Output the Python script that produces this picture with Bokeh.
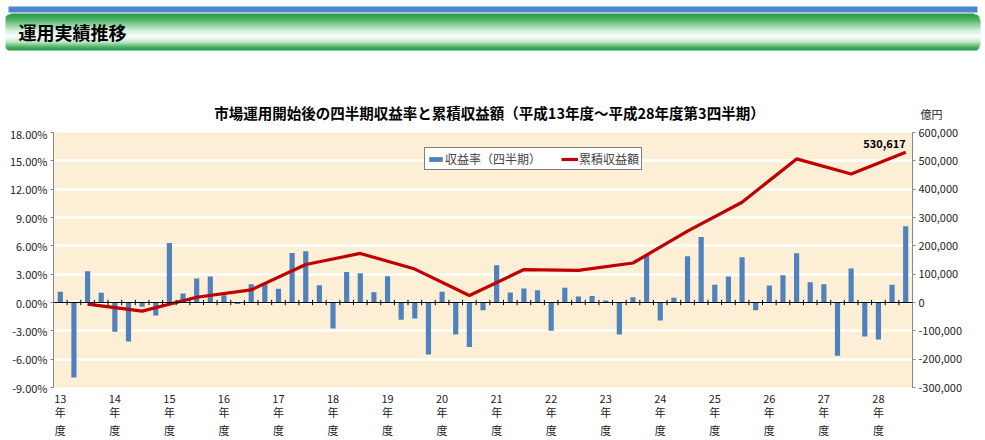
import numpy as np
from bokeh.plotting import figure
from bokeh.models import (Range1d, LinearAxis, FixedTicker, PrintfTickFormatter,
                          NumeralTickFormatter, Span, Legend)
from bokeh.core.properties import value
from bokeh.embed import file_html
from bokeh.resources import INLINE

# ---------------- data ----------------
header_title = "運用実績推移"
chart_title = "市場運用開始後の四半期収益率と累積収益額（平成13年度～平成28年度第3四半期）"
unit_label = "億円"
series_bar_name = "収益率（四半期）"
series_line_name = "累積収益額"

fiscal_years = ["13", "14", "15", "16", "17", "18", "19", "20",
                "21", "22", "23", "24", "25", "26", "27", "28"]
year_suffix_1 = "年"
year_suffix_2 = "度"

# quarterly return (%), FY13 Q1 ... FY28 Q3
quarterly_returns = [
    1.13, -7.93, 3.31, 1.02,     # 13
    -3.10, -4.12, -0.46, -1.38,  # 14
    6.31, 0.95, 2.54, 2.75,      # 15
    0.77, -0.15, 1.94, 2.00,     # 16
    1.45, 5.25, 5.43, 1.83,      # 17
    -2.75, 3.24, 3.10, 1.09,     # 18
    2.78, -1.83, -1.69, -5.50,   # 19
    1.13, -3.38, -4.72, -0.81,   # 20
    3.95, 1.06, 1.48, 1.30,      # 21
    -3.00, 1.55, 0.63, 0.70,     # 22
    0.21, -3.38, 0.56, 5.00,     # 23
    -1.90, 0.49, 4.90, 6.94,     # 24
    1.87, 2.75, 4.79, -0.81,     # 25
    1.80, 2.89, 5.22, 2.15,      # 26
    1.94, -5.64, 3.60, -3.60,    # 27
    -3.91, 1.87, 8.07,           # 28
]

# cumulative return (億円), one point per fiscal year (last = FY28 Q3)
cumulative_amount = [-5874, -30404, 18512, 44639, 134258, 173152, 117974, 24493,
                     116343, 113344, 139436, 251658, 353865, 506787, 453689, 530617]

left_ticks = [-9, -6, -3, 0, 3, 6, 9, 12, 15, 18]
right_ticks = [-300000, -200000, -100000, 0, 100000, 200000, 300000, 400000, 500000, 600000]

# ---------------- derived positions ----------------
n_q = len(quarterly_returns)
q_index = list(range(n_q))
line_index = [4 * k + 2 for k in range(len(cumulative_amount))]
year_ticks = [4 * k for k in range(len(fiscal_years))]
boundaries = [i + 0.5 for i in q_index[:-1]]

FONT = "Noto Sans CJK JP"
W = 985

# ---------------- top block (header + chart title) ----------------
TOP_H = 125
top = figure(width=W, height=TOP_H, x_range=Range1d(0, W), y_range=Range1d(0, TOP_H),
             toolbar_location=None, output_backend="svg", min_border=0, title=None,
             x_axis_type=None, y_axis_type=None)
top.outline_line_color = None
top.grid.visible = False
top.background_fill_color = "white"
top.border_fill_color = "white"


def py(page_y):
    return TOP_H - page_y


top.quad(left=[8], right=[977], bottom=[py(12)], top=[py(6)], color="#4f84cf", line_color=None)

stops = [(0.0, "#2a9a47"), (0.15, "#48b262"), (0.45, "#d2eed9"), (0.62, "#ffffff"),
         (0.78, "#c2e6cb"), (0.92, "#48b262"), (1.0, "#2a9a47")]


def _rgb(h):
    return np.array([int(h[i:i + 2], 16) for i in (1, 3, 5)], dtype=float)


def _interp(t):
    for (t0, c0), (t1, c1) in zip(stops[:-1], stops[1:]):
        if t0 <= t <= t1:
            f = (t - t0) / (t1 - t0) if t1 > t0 else 0
            return _rgb(c0) * (1 - f) + _rgb(c1) * f
    return _rgb(stops[-1][1])


bar_left, bar_right, bar_top, bar_bottom = 5, 980, 13, 50
rows, cols = bar_bottom - bar_top, bar_right - bar_left
img = np.zeros((rows, cols), dtype=np.uint32)
view = img.view(dtype=np.uint8).reshape((rows, cols, 4))
for r in range(rows):
    c = _interp(r / (rows - 1))
    view[rows - 1 - r, :, 0:3] = c.astype(np.uint8)
    view[rows - 1 - r, :, 3] = 255
rad = 6
for r in range(rows):
    for cc in list(range(rad)) + list(range(cols - rad, cols)):
        if r < rad:
            cy = rad - 0.5
        elif r >= rows - rad:
            cy = rows - rad - 0.5
        else:
            continue
        cx = rad - 0.5 if cc < rad else cols - rad - 0.5
        if (r + 0.5 - cy) ** 2 + (cc + 0.5 - cx) ** 2 > rad ** 2:
            view[r, cc, 3] = 0
top.image_rgba(image=[img], x=bar_left, y=py(bar_bottom), dw=cols, dh=rows)
top.text(x=[18], y=[py(31)], text=[header_title], text_font=value(FONT),
         text_font_style="bold", text_font_size="18px", text_color="black",
         text_baseline="middle", text_align="left")
top.text(x=[489], y=[py(112)], text=[chart_title], text_font=value(FONT),
         text_font_style="bold", text_font_size="14.5px", text_color="black",
         text_baseline="middle", text_align="center")
top.text(x=[931], y=[py(113)], text=[unit_label], text_font=value(FONT),
         text_font_size="11px", text_color="#222222",
         text_baseline="middle", text_align="center")

# ---------------- chart ----------------
p = figure(width=W, height=440 - TOP_H, x_range=Range1d(-0.5, n_q - 0.5), y_range=Range1d(-9, 18),
           toolbar_location=None, output_backend="svg", title=None,
           min_border_left=53, min_border_right=73, min_border_top=7, min_border_bottom=52)
p.extra_y_ranges = {"amt": Range1d(-300000, 600000)}
p.background_fill_color = "#fcefd6"
p.border_fill_color = "white"
p.outline_line_color = None

p.xgrid.visible = False
p.ygrid.ticker = FixedTicker(ticks=left_ticks)
p.ygrid.grid_line_color = "white"
p.ygrid.grid_line_width = 2.5

bars = p.vbar(x=q_index, top=quarterly_returns, width=0.38, color="#4f81bd", line_color=None)
line = p.line(x=line_index, y=cumulative_amount, y_range_name="amt",
              line_color="#c00000", line_width=3.2)

p.add_layout(Span(location=0, dimension="width", line_color="black", line_width=1))
p.segment(x0=boundaries, y0=[-0.28] * len(boundaries), x1=boundaries, y1=[0.28] * len(boundaries),
          line_color="black", line_width=1)


def style_y(ax):
    ax.axis_line_color = "#888888"
    ax.major_tick_line_color = "#888888"
    ax.major_tick_in = 0
    ax.major_tick_out = 3
    ax.minor_tick_line_color = None
    ax.major_label_standoff = 3
    ax.major_label_text_font = FONT
    ax.major_label_text_font_size = "11px"
    ax.major_label_text_color = "#222222"


ya = p.yaxis[0]
ya.ticker = FixedTicker(ticks=left_ticks)
ya.formatter = PrintfTickFormatter(format="%.2f%%")
style_y(ya)

ra = LinearAxis(y_range_name="amt", ticker=FixedTicker(ticks=right_ticks),
                formatter=NumeralTickFormatter(format="0,0"))
style_y(ra)
p.add_layout(ra, "right")


def style_x(ax, labels, standoff):
    ax.ticker = FixedTicker(ticks=year_ticks)
    ax.major_label_overrides = {t: s for t, s in zip(year_ticks, labels)}
    ax.axis_line_color = None
    ax.major_tick_line_color = None
    ax.major_tick_out = 0
    ax.major_tick_in = 0
    ax.minor_tick_line_color = None
    ax.major_label_standoff = standoff
    ax.major_label_text_font = FONT
    ax.major_label_text_font_size = "11px"
    ax.major_label_text_color = "#222222"


style_x(p.xaxis[0], fiscal_years, 7)
xa2 = LinearAxis()
style_x(xa2, [year_suffix_1] * len(fiscal_years), -2)
p.add_layout(xa2, "below")
xa3 = LinearAxis()
style_x(xa3, [year_suffix_2] * len(fiscal_years), -1)
p.add_layout(xa3, "below")

# last value label
p.text(x=[line_index[-1]], y=[cumulative_amount[-1]], y_range_name="amt",
       text=[f"{cumulative_amount[-1]:,}"], text_font=value(FONT), text_font_style="bold",
       text_font_size="11px", text_align="right", text_baseline="bottom", y_offset=-4,
       text_color="black")

legend = Legend(items=[(series_bar_name, [bars]), (series_line_name, [line])],
                orientation="horizontal", location=(371, 217))
legend.label_text_font = FONT
legend.label_text_font_size = "12px"
legend.label_height = 12
legend.glyph_height = 6
legend.glyph_width = 17
legend.label_standoff = 1
legend.spacing = 20
legend.padding = 2
legend.margin = 0
legend.border_line_color = "black"
legend.border_line_width = 1
legend.background_fill_color = "white"
legend.background_fill_alpha = 1
p.add_layout(legend)

open("out.html", "w").write(file_html([top, p], INLINE))
